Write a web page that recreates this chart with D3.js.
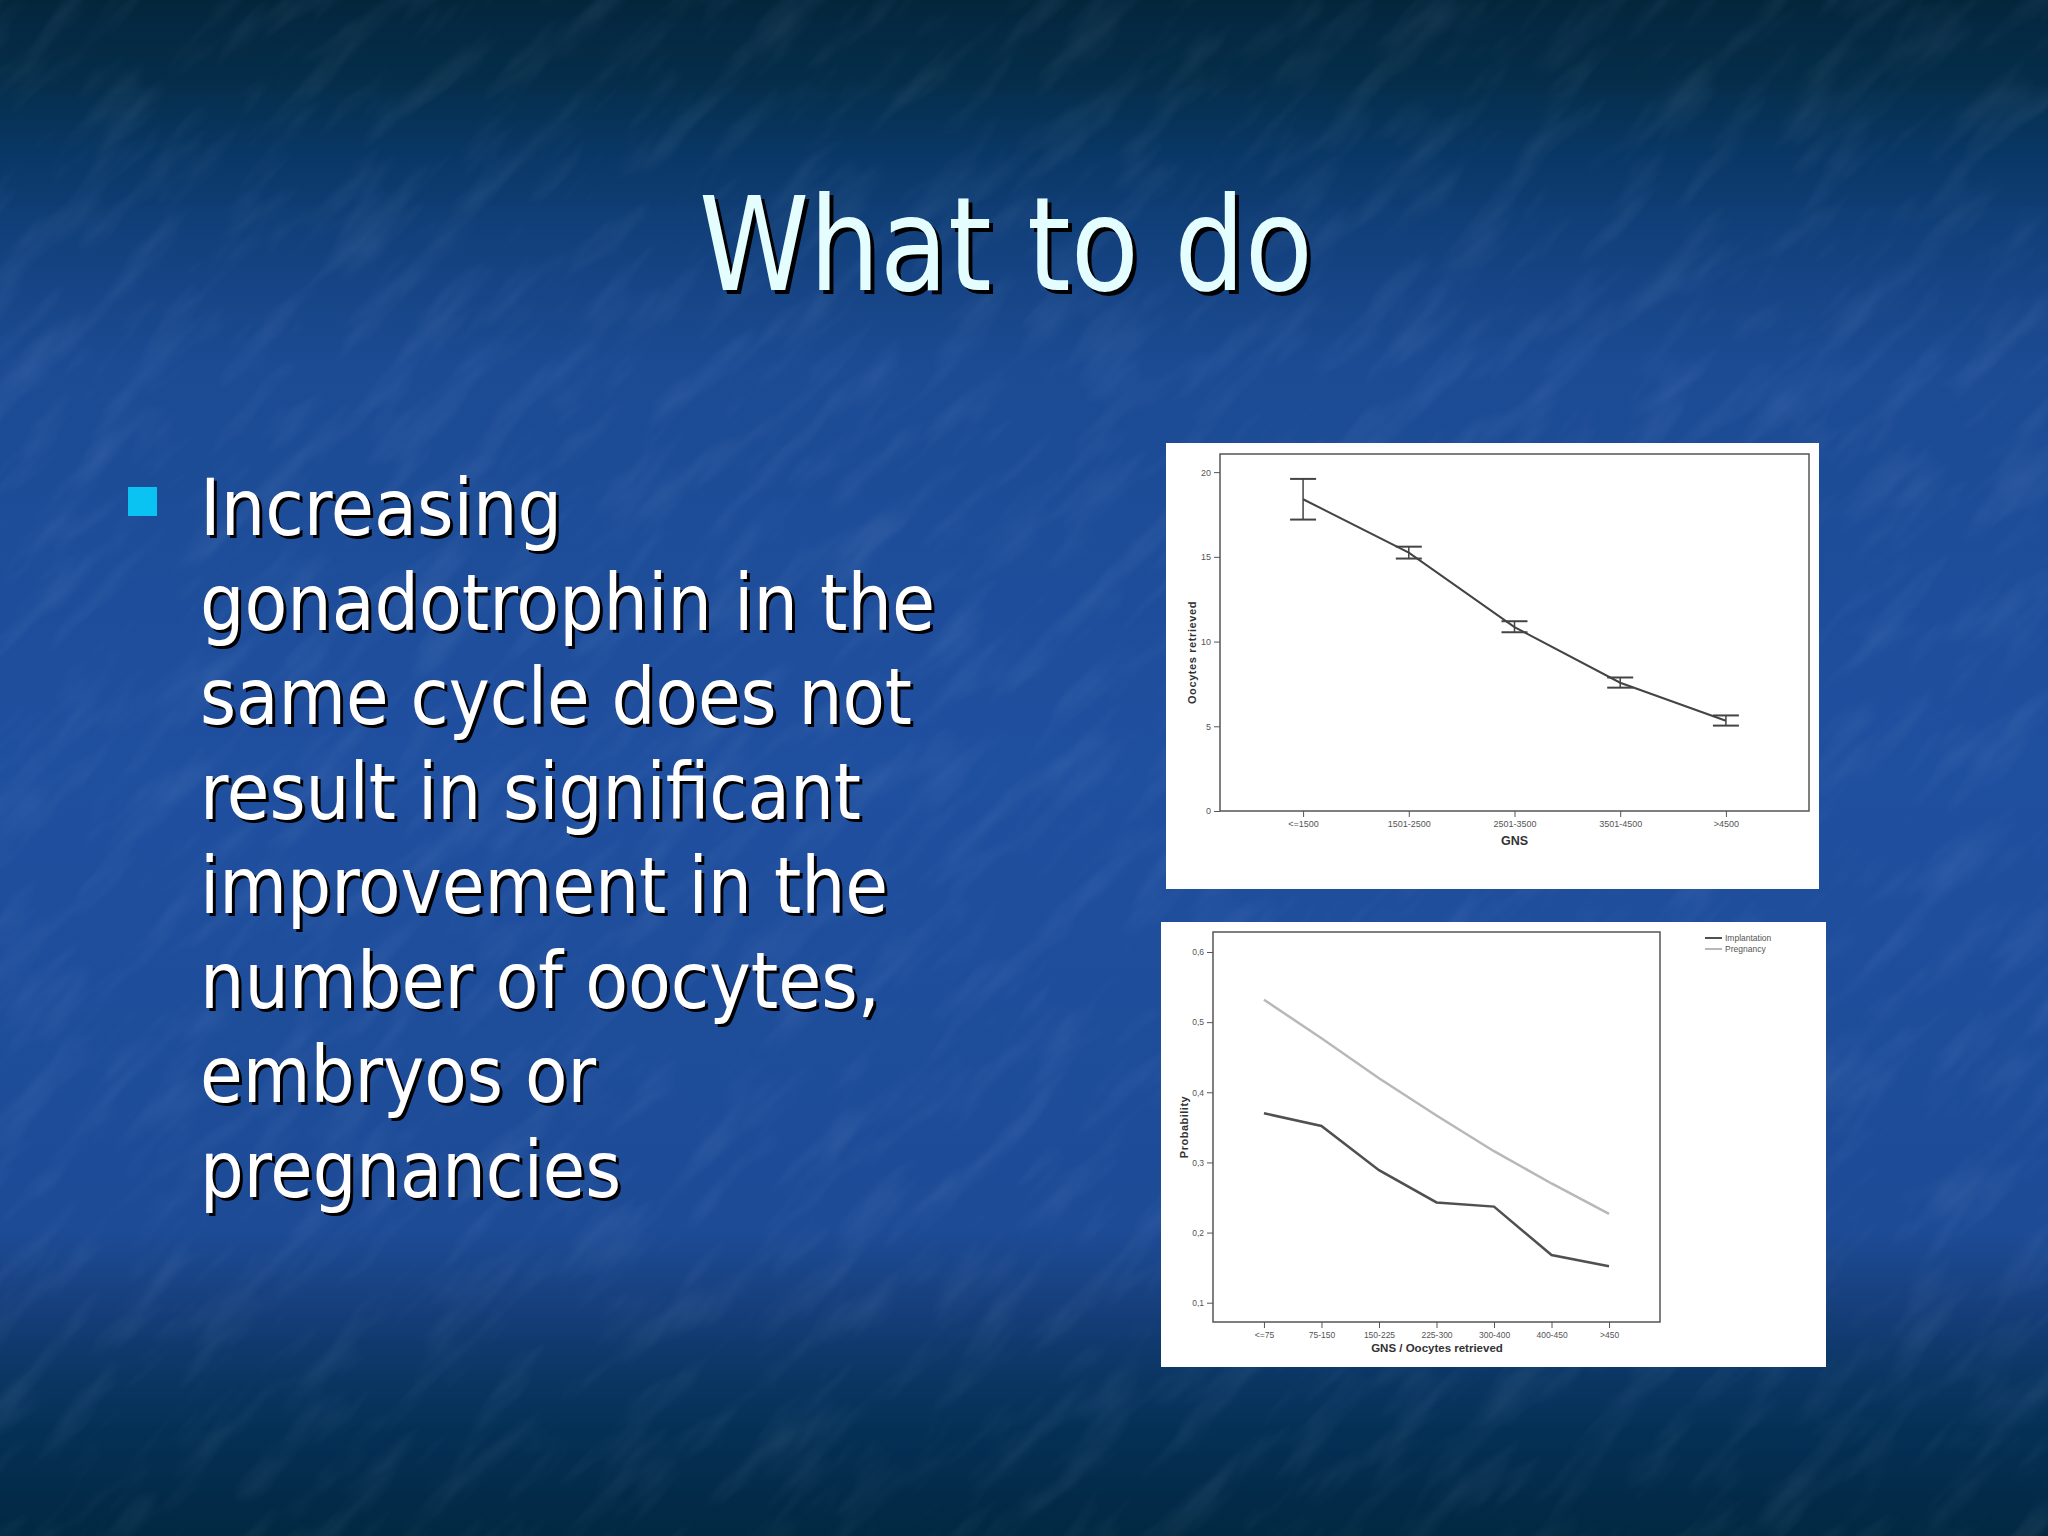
<!DOCTYPE html>
<html><head><meta charset="utf-8">
<script src="https://cdn.jsdelivr.net/npm/d3@7/dist/d3.min.js"></script>
<style>html,body{margin:0;padding:0;background:#1d4a94;overflow:hidden}</style>
</head><body>
<script>
// ---- data ----
const titleText = "What to do";
const bulletLines = ["Increasing","gonadotrophin in the","same cycle does not","result in significant","improvement in the","number of oocytes,","embryos or","pregnancies"];

const gnsCategories = ["<=1500","1501-2500","2501-3500","3501-4500",">4500"];
const oocyteMeans = [18.4,15.25,10.85,7.57,5.33];
const oocyteUpper = [19.6,15.6,11.2,7.88,5.64];
const oocyteLower = [17.2,14.9,10.55,7.28,5.04];
const oocyteTicks = [0,5,10,15,20];

const ratioCategories = ["<=75","75-150","150-225","225-300","300-400","400-450",">450"];
const implantation = [0.370,0.352,0.289,0.243,0.237,0.168,0.152];
const pregnancy = [0.532,0.477,0.420,0.367,0.316,0.270,0.2265];
const probTicks = [0.1,0.2,0.3,0.4,0.5,0.6];
const legendLabels = ["Implantation","Pregnancy"];

const W=2048,H=1536;
const svg=d3.select("body").append("svg").attr("width",W).attr("height",H);
const defs=svg.append("defs");
const g=defs.append("linearGradient").attr("id","bg").attr("x1",0).attr("y1",0).attr("x2",0).attr("y2",1);
[[0,"#04263d"],[0.05,"#052d49"],[0.1,"#093765"],[0.16,"#13417e"],[0.24,"#1c4b94"],[0.5,"#1f4f9f"],[0.8,"#1d4b96"],[0.85,"#163f7c"],[0.89,"#0c3766"],[0.93,"#053056"],[0.97,"#032b4a"],[1,"#022942"]]
.forEach(([o,c])=>g.append("stop").attr("offset",o).attr("stop-color",c));
const f=defs.append("filter").attr("id","tex").attr("x",0).attr("y",0).attr("width","100%").attr("height","100%");
f.append("feTurbulence").attr("type","fractalNoise").attr("baseFrequency","0.009 0.035").attr("numOctaves",3).attr("seed",7).attr("result","n");
f.append("feColorMatrix").attr("in","n").attr("type","matrix")
 .attr("values","0 0 0 0 0.6  0 0 0 0 0.75  0 0 0 0 1  0 0 0 0.9 -0.42").attr("result","c");
f.append("feComposite").attr("in","c").attr("in2","SourceGraphic").attr("operator","in");

svg.append("rect").attr("width",W).attr("height",H).attr("fill","url(#bg)");
svg.append("g").attr("transform","rotate(-45 1024 768)")
  .append("rect").attr("x",-800).attr("y",-800).attr("width",W+1600).attr("height",H+1600)
  .attr("fill","#fff").attr("filter","url(#tex)").attr("opacity",0.2);

const slideFont='"DejaVu Sans Condensed","DejaVu Sans",Tahoma,sans-serif';
function shadowText(sel,x,y,txt,size,fill,len,off){
  sel.append("text").attr("x",x+off).attr("y",y+off).attr("font-family",slideFont).attr("font-size",size)
    .attr("fill","#000").attr("textLength",len).attr("lengthAdjust","spacingAndGlyphs").text(txt);
  sel.append("text").attr("x",x).attr("y",y).attr("font-family",slideFont).attr("font-size",size)
    .attr("fill",fill).attr("textLength",len).attr("lengthAdjust","spacingAndGlyphs").text(txt);
}
const tg=svg.append("g");
shadowText(tg,699,290,titleText,130,"#e4fdff",614,4);

// bullet
svg.append("rect").attr("x",128).attr("y",487).attr("width",29).attr("height",29).attr("fill","#0bc3f2");
const bg=svg.append("g");
const bulletWidths=[362,735,712,661,688,680,396,421];
bulletLines.forEach((t,i)=>shadowText(bg,200,535+i*94.5,t,78,"#ffffff",bulletWidths[i],3));

const chartFont='"Liberation Sans",Arial,sans-serif';

// ---- top chart ----
svg.append("rect").attr("x",1166).attr("y",443).attr("width",653).attr("height",446).attr("fill","#fff");
const t1={l:1220,r:1809,t:454,b:811};
const x1=d3.scalePoint().domain(gnsCategories).range([t1.l,t1.r]).padding(0.786);
const y1=d3.scaleLinear().domain([0,21.07]).range([t1.b,t1.t]);
const c1=svg.append("g");
c1.append("rect").attr("x",t1.l).attr("y",t1.t).attr("width",t1.r-t1.l).attr("height",t1.b-t1.t)
  .attr("fill","none").attr("stroke","#555").attr("stroke-width",1.5);
const ya1=c1.append("g").attr("transform",`translate(${t1.l},0)`)
  .call(d3.axisLeft(y1).tickValues(oocyteTicks).tickSize(6).tickPadding(3));
const xa1=c1.append("g").attr("transform",`translate(0,${t1.b})`)
  .call(d3.axisBottom(x1).tickSize(6).tickPadding(4));
[ya1,xa1].forEach(a=>{a.select(".domain").remove();a.selectAll("line").attr("stroke","#555");
  a.selectAll("text").attr("font-family",chartFont).attr("font-size",9).attr("fill","#555");});
c1.append("path").datum(oocyteMeans).attr("fill","none").attr("stroke","#444").attr("stroke-width",2)
  .attr("d",d3.line().x((d,i)=>x1(gnsCategories[i])).y(d=>y1(d)));
const eb=c1.selectAll(".eb").data(gnsCategories).join("g");
eb.append("line").attr("x1",d=>x1(d)).attr("x2",d=>x1(d)).attr("y1",(d,i)=>y1(oocyteUpper[i])).attr("y2",(d,i)=>y1(oocyteLower[i]))
  .attr("stroke","#444").attr("stroke-width",1.5);
[oocyteUpper,oocyteLower].forEach(arr=>eb.append("line").attr("x1",d=>x1(d)-13).attr("x2",d=>x1(d)+13)
  .attr("y1",(d,i)=>y1(arr[i])).attr("y2",(d,i)=>y1(arr[i])).attr("stroke","#444").attr("stroke-width",2));
c1.append("text").attr("transform",`translate(1196,${(t1.t+t1.b)/2+20}) rotate(-90)`).attr("text-anchor","middle")
  .attr("font-family",chartFont).attr("font-weight","bold").attr("font-size",11).attr("fill","#333").attr("letter-spacing",0.6).text("Oocytes retrieved");
c1.append("text").attr("x",x1(gnsCategories[2])).attr("y",845).attr("text-anchor","middle")
  .attr("font-family",chartFont).attr("font-weight","bold").attr("font-size",12.5).attr("fill","#333").text("GNS");

// ---- bottom chart ----
svg.append("rect").attr("x",1161).attr("y",922).attr("width",665).attr("height",445).attr("fill","#fff");
const t2={l:1213,r:1660,t:932,b:1322};
const x2=d3.scalePoint().domain(ratioCategories).range([t2.l,t2.r]).padding(0.886);
const y2=d3.scaleLinear().domain([0.0725,0.6285]).range([t2.b,t2.t]);
const c2=svg.append("g");
c2.append("rect").attr("x",t2.l).attr("y",t2.t).attr("width",t2.r-t2.l).attr("height",t2.b-t2.t)
  .attr("fill","none").attr("stroke","#555").attr("stroke-width",1.5);
const ya2=c2.append("g").attr("transform",`translate(${t2.l},0)`)
  .call(d3.axisLeft(y2).tickValues(probTicks).tickSize(6).tickPadding(3).tickFormat(d=>d3.format(".1f")(d).replace(".",",")));
const xa2=c2.append("g").attr("transform",`translate(0,${t2.b})`)
  .call(d3.axisBottom(x2).tickSize(6).tickPadding(4));
[ya2,xa2].forEach(a=>{a.select(".domain").remove();a.selectAll("line").attr("stroke","#555");
  a.selectAll("text").attr("font-family",chartFont).attr("font-size",8.5).attr("fill","#555");});
const line2=d3.line().x((d,i)=>x2(ratioCategories[i])).y(d=>y2(d));
c2.append("path").datum(pregnancy).attr("fill","none").attr("stroke","#b8b8b8").attr("stroke-width",2.5).attr("d",line2);
c2.append("path").datum(implantation).attr("fill","none").attr("stroke","#505050").attr("stroke-width",2.5).attr("d",line2);
const legColors=["#505050","#b8b8b8"];
legendLabels.forEach((t,i)=>{
  const ly=938+i*11;
  c2.append("line").attr("x1",1705).attr("x2",1722).attr("y1",ly).attr("y2",ly).attr("stroke",legColors[i]).attr("stroke-width",2);
  c2.append("text").attr("x",1725).attr("y",ly+3).attr("font-family",chartFont).attr("font-size",8.5).attr("fill","#555").text(t);
});
c2.append("text").attr("transform",`translate(1188,${1127}) rotate(-90)`).attr("text-anchor","middle")
  .attr("font-family",chartFont).attr("font-weight","bold").attr("font-size",11).attr("fill","#333").attr("letter-spacing",0.5).text("Probability");
c2.append("text").attr("x",1437).attr("y",1352).attr("text-anchor","middle")
  .attr("font-family",chartFont).attr("font-weight","bold").attr("font-size",11.5).attr("fill","#333").text("GNS / Oocytes retrieved");
</script>
</body></html>
